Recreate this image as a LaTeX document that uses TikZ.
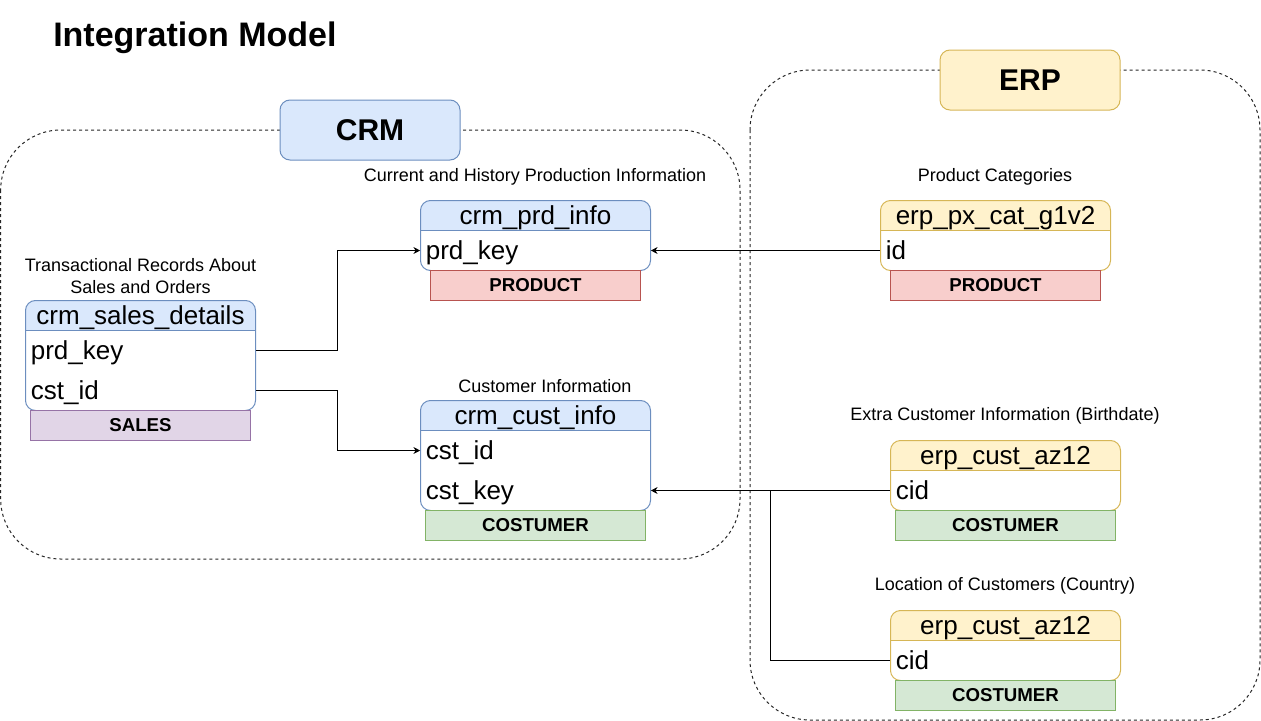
\documentclass[tikz,border=0pt]{standalone}
\usepackage{fontspec}
\setmainfont{Liberation Sans}
\usetikzlibrary{arrows.meta}
\definecolor{crmfill}{HTML}{DAE8FC}
\definecolor{crmline}{HTML}{6C8EBF}
\definecolor{erpfill}{HTML}{FFF2CC}
\definecolor{erpline}{HTML}{D6B656}
\definecolor{prodfill}{HTML}{F8CECC}
\definecolor{prodline}{HTML}{B85450}
\definecolor{custfill}{HTML}{D5E8D4}
\definecolor{custline}{HTML}{82B366}
\definecolor{salesfill}{HTML}{E1D5E7}
\definecolor{salesline}{HTML}{9673A6}
\pgfdeclarelayer{background}
\pgfsetlayers{background,main}

\begin{document}
\begin{tikzpicture}[x=0.75pt, y=-0.75pt,
		group/.style={draw=black!85, dash pattern=on 2.25pt off 2.25pt, rounded corners=45pt, line width=0.75pt},
		groupname/.style={draw, line width=0.75pt, rounded corners=7.5pt, minimum width=135pt, minimum height=45pt, font=\fontsize{22.5}{26}\selectfont\bfseries},
		tbl/.style={draw, line width=0.75pt, rounded corners=7.5pt, minimum width=172.5pt},
		head/.style={rounded corners=7.5pt, minimum width=172.5pt, minimum height=22.5pt, text height=14pt, text depth=1pt, inner sep=0pt, font=\fontsize{19.5}{22}\selectfont},
		row/.style={minimum width=172.5pt, minimum height=30pt, text width=164.5pt, text height=14pt, text depth=0.5pt, inner xsep=4pt, inner ysep=0pt, align=left, font=\fontsize{19.5}{22}\selectfont},
		tag/.style={draw, line width=0.75pt, minimum height=22.5pt, inner sep=0pt, font=\fontsize{14}{16}\selectfont\bfseries},
		note/.style={align=center, inner sep=0pt, font=\fontsize{13.5}{16.5}\selectfont},
		link/.style={-{Stealth[length=5pt, width=5pt, inset=1.5pt]}, line width=0.75pt}
	]
	\useasboundingbox (0,0) rectangle (1261,721);

	\node[anchor=west, inner sep=0pt, font=\fontsize{25.5}{30}\selectfont\bfseries] (title) at (53,38) {Integration Model};

	% containers
	\draw[group] (0.7,130) rectangle (740,559);
	\draw[group] (750,70) rectangle (1260,720);
	\node[groupname, fill=crmfill, draw=crmline] (crm) at (370,130) {CRM};
	\node[groupname, fill=erpfill, draw=erpline] (erp) at (1030,80) {ERP};

	% crm_sales_details
	\node[note] (sdnote) at (140.5,276) {Transactional Records About\\Sales and Orders};
	\node[head, fill=crmfill] (sdh) at (140.5,315.5) {crm\_sales\_details};
	\node[tbl, draw=crmline, minimum height=82.5pt] (sd) at (140.5,355.5) {};
	\draw[crmline, line width=0.75pt] (sdh.south west) -- (sdh.south east);
	\node[row] (sdprd) at (140.5,350.5) {prd\_key};
	\node[row] (sdcst) at (140.5,390.5) {cst\_id};
	\node[tag, fill=salesfill, draw=salesline, minimum width=165pt] (sdtag) at (140.5,425.5) {SALES};

	% crm_prd_info
	\node[note] (pinote) at (535,177) {Current and History Production Information};
	\node[head, fill=crmfill] (pih) at (535.5,215.5) {crm\_prd\_info};
	\node[tbl, draw=crmline, minimum height=52.5pt] (pi) at (535.5,235.5) {};
	\draw[crmline, line width=0.75pt] (pih.south west) -- (pih.south east);
	\node[row] (piprd) at (535.5,250.5) {prd\_key};
	\node[tag, fill=prodfill, draw=prodline, minimum width=157.5pt] (pitag) at (535.5,285.5) {PRODUCT};

	% crm_cust_info
	\node[note] (cinote) at (545,386) {Customer Information};
	\node[head, fill=crmfill] (cih) at (535.5,415.5) {crm\_cust\_info};
	\node[tbl, draw=crmline, minimum height=82.5pt] (ci) at (535.5,455.5) {};
	\draw[crmline, line width=0.75pt] (cih.south west) -- (cih.south east);
	\node[row] (cicst) at (535.5,450.5) {cst\_id};
	\node[row] (cikey) at (535.5,490.5) {cst\_key};
	\node[tag, fill=custfill, draw=custline, minimum width=165pt] (citag) at (535.5,525.5) {COSTUMER};

	% erp_px_cat_g1v2
	\node[note] (epnote) at (995,177) {Product Categories};
	\node[head, fill=erpfill] (eph) at (995.5,215.5) {erp\_px\_cat\_g1v2};
	\node[tbl, draw=erpline, minimum height=52.5pt] (ep) at (995.5,235.5) {};
	\draw[erpline, line width=0.75pt] (eph.south west) -- (eph.south east);
	\node[row] (epid) at (995.5,250.5) {id};
	\node[tag, fill=prodfill, draw=prodline, minimum width=157.5pt] (eptag) at (995.5,285.5) {PRODUCT};

	% erp_cust_az12 (birthdate)
	\node[note] (eanote) at (1005,416) {Extra Customer Information (Birthdate)};
	\node[head, fill=erpfill] (eah) at (1005.5,455.5) {erp\_cust\_az12};
	\node[tbl, draw=erpline, minimum height=52.5pt] (ea) at (1005.5,475.5) {};
	\draw[erpline, line width=0.75pt] (eah.south west) -- (eah.south east);
	\node[row] (eacid) at (1005.5,490.5) {cid};
	\node[tag, fill=custfill, draw=custline, minimum width=165pt] (eatag) at (1005.5,525.5) {COSTUMER};

	% erp_cust_az12 (country)
	\node[note] (ebnote) at (1005,586) {Location of Customers (Country)};
	\node[head, fill=erpfill] (ebh) at (1005.5,625.5) {erp\_cust\_az12};
	\node[tbl, draw=erpline, minimum height=52.5pt] (eb) at (1005.5,645.5) {};
	\draw[erpline, line width=0.75pt] (ebh.south west) -- (ebh.south east);
	\node[row] (ebcid) at (1005.5,660.5) {cid};
	\node[tag, fill=custfill, draw=custline, minimum width=165pt] (ebtag) at (1005.5,695.5) {COSTUMER};

	% square off the lower corners of the headers
	\begin{pgfonlayer}{background}
		\fill[crmfill] (sdh.west) rectangle (sdh.south east);
		\fill[crmfill] (pih.west) rectangle (pih.south east);
		\fill[crmfill] (cih.west) rectangle (cih.south east);
		\fill[erpfill] (eph.west) rectangle (eph.south east);
		\fill[erpfill] (eah.west) rectangle (eah.south east);
		\fill[erpfill] (ebh.west) rectangle (ebh.south east);
	\end{pgfonlayer}

	% connectors
	\coordinate (bendA) at (337.7,0);
	\coordinate (bendB) at (770.7,0);

	\draw[link] (sdprd.east) -- (sdprd.east -| bendA) |- (piprd.west);
	\draw[link] (sdcst.east) -- (sdcst.east -| bendA) |- (cicst.west);
	\draw[link] (epid.west) -- (piprd.east);
	\draw[link] (eacid.west) -- (cikey.east);
	\draw[line width=0.75pt] (ebcid.west) -- (ebcid.west -| bendB) -- (cikey.east -| bendB);
\end{tikzpicture}
\end{document}
